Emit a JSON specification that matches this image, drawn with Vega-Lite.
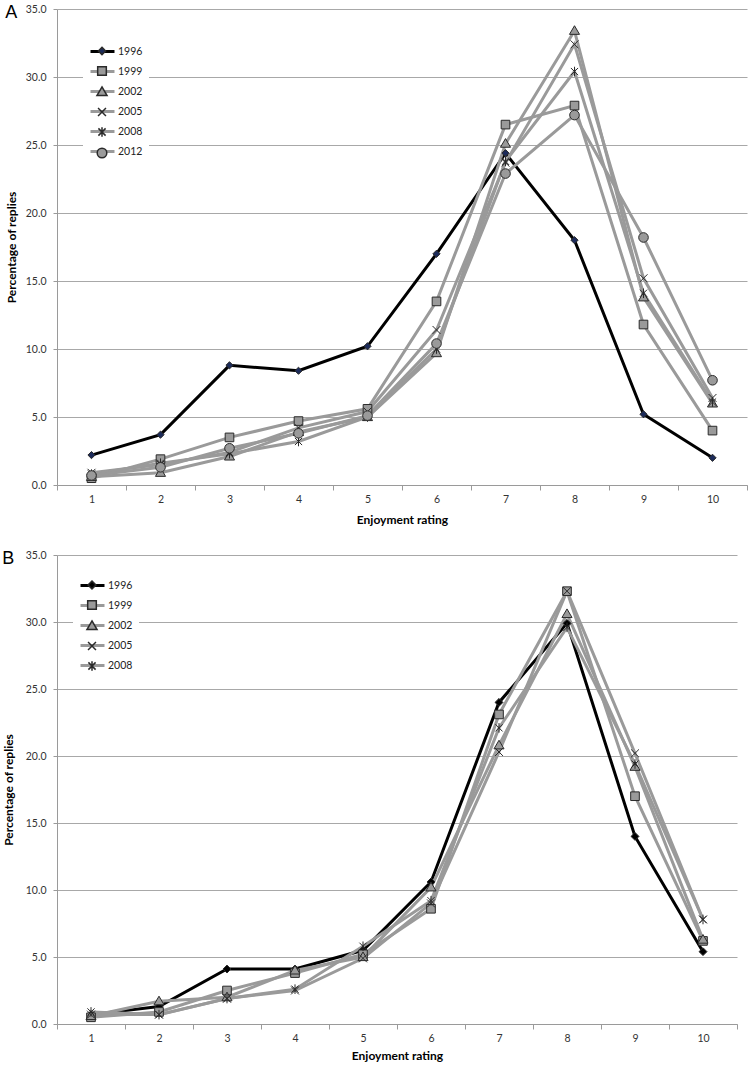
{
  "$schema": "https://vega.github.io/schema/vega-lite/v6.json",
  "padding": {"left": 2, "top": 4, "right": 0, "bottom": 0},
  "spacing": 24,
  "config": {
    "view": {"stroke": null},
    "font": "Lato",
    "axis": {
      "labelFont": "Lato", "labelFontSize": 10.5, "labelColor": "#333333",
      "titleFont": "Lato", "titleFontSize": 12, "titleFontWeight": "bold", "titleColor": "#000000",
      "domainColor": "#9a9a9a", "tickColor": "#9a9a9a", "gridColor": "#a8a8a8", "gridWidth": 1
    },
    "legend": {
      "labelFont": "Lato", "labelFontSize": 10.5, "labelColor": "#222222",
      "symbolSize": 576, "rowPadding": -3.4, "padding": 6, "labelOffset": 2, "orient": "none"
    },
    "title": {"font": "Liberation Sans", "fontSize": 18, "fontWeight": "normal", "anchor": "start", "frame": "bounds", "baseline": "middle", "offset": -18, "color": "#000000"}
  },
  "datasets": {
    "a": [
      {"year": "1996", "rating": 1, "pct": 2.2}, {"year": "1996", "rating": 2, "pct": 3.7}, {"year": "1996", "rating": 3, "pct": 8.8}, {"year": "1996", "rating": 4, "pct": 8.4}, {"year": "1996", "rating": 5, "pct": 10.2},
      {"year": "1996", "rating": 6, "pct": 17.0}, {"year": "1996", "rating": 7, "pct": 24.4}, {"year": "1996", "rating": 8, "pct": 18.0}, {"year": "1996", "rating": 9, "pct": 5.2}, {"year": "1996", "rating": 10, "pct": 2.0},
      {"year": "1999", "rating": 1, "pct": 0.5}, {"year": "1999", "rating": 2, "pct": 1.9}, {"year": "1999", "rating": 3, "pct": 3.5}, {"year": "1999", "rating": 4, "pct": 4.7}, {"year": "1999", "rating": 5, "pct": 5.6},
      {"year": "1999", "rating": 6, "pct": 13.5}, {"year": "1999", "rating": 7, "pct": 26.5}, {"year": "1999", "rating": 8, "pct": 27.9}, {"year": "1999", "rating": 9, "pct": 11.8}, {"year": "1999", "rating": 10, "pct": 4.0},
      {"year": "2002", "rating": 1, "pct": 0.6}, {"year": "2002", "rating": 2, "pct": 0.9}, {"year": "2002", "rating": 3, "pct": 2.1}, {"year": "2002", "rating": 4, "pct": 3.9}, {"year": "2002", "rating": 5, "pct": 5.0},
      {"year": "2002", "rating": 6, "pct": 9.7}, {"year": "2002", "rating": 7, "pct": 25.1}, {"year": "2002", "rating": 8, "pct": 33.4}, {"year": "2002", "rating": 9, "pct": 13.8}, {"year": "2002", "rating": 10, "pct": 6.0},
      {"year": "2005", "rating": 1, "pct": 0.9}, {"year": "2005", "rating": 2, "pct": 1.5}, {"year": "2005", "rating": 3, "pct": 2.4}, {"year": "2005", "rating": 4, "pct": 4.2}, {"year": "2005", "rating": 5, "pct": 5.4},
      {"year": "2005", "rating": 6, "pct": 11.4}, {"year": "2005", "rating": 7, "pct": 23.7}, {"year": "2005", "rating": 8, "pct": 32.4}, {"year": "2005", "rating": 9, "pct": 15.2}, {"year": "2005", "rating": 10, "pct": 6.4},
      {"year": "2008", "rating": 1, "pct": 0.8}, {"year": "2008", "rating": 2, "pct": 1.6}, {"year": "2008", "rating": 3, "pct": 2.3}, {"year": "2008", "rating": 4, "pct": 3.2}, {"year": "2008", "rating": 5, "pct": 5.0},
      {"year": "2008", "rating": 6, "pct": 10.0}, {"year": "2008", "rating": 7, "pct": 23.8}, {"year": "2008", "rating": 8, "pct": 30.4}, {"year": "2008", "rating": 9, "pct": 14.1}, {"year": "2008", "rating": 10, "pct": 6.1},
      {"year": "2012", "rating": 1, "pct": 0.7}, {"year": "2012", "rating": 2, "pct": 1.3}, {"year": "2012", "rating": 3, "pct": 2.7}, {"year": "2012", "rating": 4, "pct": 3.8}, {"year": "2012", "rating": 5, "pct": 5.1},
      {"year": "2012", "rating": 6, "pct": 10.4}, {"year": "2012", "rating": 7, "pct": 22.9}, {"year": "2012", "rating": 8, "pct": 27.2}, {"year": "2012", "rating": 9, "pct": 18.2}, {"year": "2012", "rating": 10, "pct": 7.7}
    ],
    "b": [
      {"year": "1996", "rating": 1, "pct": 0.7}, {"year": "1996", "rating": 2, "pct": 1.3}, {"year": "1996", "rating": 3, "pct": 4.1}, {"year": "1996", "rating": 4, "pct": 4.1}, {"year": "1996", "rating": 5, "pct": 5.5},
      {"year": "1996", "rating": 6, "pct": 10.6}, {"year": "1996", "rating": 7, "pct": 24.0}, {"year": "1996", "rating": 8, "pct": 29.9}, {"year": "1996", "rating": 9, "pct": 14.0}, {"year": "1996", "rating": 10, "pct": 5.4},
      {"year": "1999", "rating": 1, "pct": 0.5}, {"year": "1999", "rating": 2, "pct": 0.9}, {"year": "1999", "rating": 3, "pct": 2.5}, {"year": "1999", "rating": 4, "pct": 3.8}, {"year": "1999", "rating": 5, "pct": 5.2},
      {"year": "1999", "rating": 6, "pct": 8.6}, {"year": "1999", "rating": 7, "pct": 23.1}, {"year": "1999", "rating": 8, "pct": 32.3}, {"year": "1999", "rating": 9, "pct": 17.0}, {"year": "1999", "rating": 10, "pct": 6.2},
      {"year": "2002", "rating": 1, "pct": 0.6}, {"year": "2002", "rating": 2, "pct": 1.7}, {"year": "2002", "rating": 3, "pct": 2.0}, {"year": "2002", "rating": 4, "pct": 4.0}, {"year": "2002", "rating": 5, "pct": 5.0},
      {"year": "2002", "rating": 6, "pct": 10.2}, {"year": "2002", "rating": 7, "pct": 20.8}, {"year": "2002", "rating": 8, "pct": 30.6}, {"year": "2002", "rating": 9, "pct": 19.2}, {"year": "2002", "rating": 10, "pct": 6.3},
      {"year": "2005", "rating": 1, "pct": 0.7}, {"year": "2005", "rating": 2, "pct": 0.7}, {"year": "2005", "rating": 3, "pct": 1.9}, {"year": "2005", "rating": 4, "pct": 2.5}, {"year": "2005", "rating": 5, "pct": 4.9},
      {"year": "2005", "rating": 6, "pct": 9.0}, {"year": "2005", "rating": 7, "pct": 20.3}, {"year": "2005", "rating": 8, "pct": 32.3}, {"year": "2005", "rating": 9, "pct": 20.2}, {"year": "2005", "rating": 10, "pct": 7.8},
      {"year": "2008", "rating": 1, "pct": 0.9}, {"year": "2008", "rating": 2, "pct": 0.7}, {"year": "2008", "rating": 3, "pct": 1.9}, {"year": "2008", "rating": 4, "pct": 2.6}, {"year": "2008", "rating": 5, "pct": 5.8},
      {"year": "2008", "rating": 6, "pct": 9.2}, {"year": "2008", "rating": 7, "pct": 22.1}, {"year": "2008", "rating": 8, "pct": 29.6}, {"year": "2008", "rating": 9, "pct": 19.4}, {"year": "2008", "rating": 10, "pct": 7.8}
    ]
  },
  "vconcat": [
    {
      "title": {"text": "A"},
      "width": 690,
      "height": 476,
      "data": {"name": "a"},
      "encoding": {
        "x": {"field": "rating", "type": "ordinal", "title": "Enjoyment rating",
          "scale": {"paddingInner": 0, "paddingOuter": 0},
          "axis": {"labelAngle": 0, "tickBand": "extent", "tickSize": 5, "labelPadding": 4, "titlePadding": 10, "grid": false}},
        "y": {"field": "pct", "type": "quantitative", "title": "Percentage of replies",
          "scale": {"domain": [0, 35], "nice": false},
          "axis": {"values": [0, 5, 10, 15, 20, 25, 30, 35], "format": ".1f", "tickSize": 4, "labelPadding": 7, "titlePadding": 7, "grid": true}}
      },
      "layer": [
        {
          "mark": {"type": "line", "strokeWidth": 3},
          "encoding": {
            "stroke": {"field": "year", "type": "nominal",
              "scale": {"range": ["#000000", "#9a9a9a", "#9a9a9a", "#9a9a9a", "#9a9a9a", "#9a9a9a"]},
              "legend": {"title": null, "symbolType": "stroke", "legendX": 26, "legendY": 23, "fillColor": "white", "zindex": 1, "symbolStrokeWidth": 3,
                "encode": {"symbols": {"update": {"strokeWidth": {"value": 3}}}}}},
            "strokeWidth": {"condition": {"test": "datum.year === '1996'", "value": 2.5}, "value": 3}
          }
        },
        {
          "mark": {"type": "point", "filled": true, "size": 576, "stroke": "#2a2a2a", "strokeWidth": 1, "opacity": 1},
          "encoding": {
            "shape": {"field": "year", "type": "nominal",
              "scale": {"domain": ["1996", "1999", "2002", "2005", "2008", "2012"],
                "range": [
                  "M0,-0.3L0.3,0L0,0.3L-0.3,0Z",
                  "M-0.36,-0.36L0.36,-0.36L0.36,0.36L-0.36,0.36Z",
                  "M0,-0.42L0.42,0.3L-0.42,0.3Z",
                  "M-0.33,-0.33L0.33,0.33M-0.33,0.33L0.33,-0.33",
                  "M-0.3,-0.3L0.3,0.3M-0.3,0.3L0.3,-0.3M0,-0.4L0,0.4",
                  "M-0.4,0A0.4,0.4,0,1,0,0.4,0A0.4,0.4,0,1,0,-0.4,0Z"
                ]},
              "legend": {"title": null, "legendX": 26, "legendY": 23, "zindex": 2, "labelOpacity": 0,
                "encode": {"symbols": {"update": {"stroke": {"value": "#2a2a2a"}, "strokeWidth": {"value": 1}, "opacity": {"value": 1}}}}}},
            "fill": {"field": "year", "type": "nominal",
              "scale": {"domain": ["1996", "1999", "2002", "2005", "2008", "2012"],
                "range": ["#1c2b5a", "#9a9a9a", "#9a9a9a", "transparent", "transparent", "#9a9a9a"]},
              "legend": {"title": null, "legendX": 26, "legendY": 23, "zindex": 2, "labelOpacity": 0,
                "encode": {"symbols": {"update": {"stroke": {"value": "#2a2a2a"}, "strokeWidth": {"value": 1}, "opacity": {"value": 1}}}}}}
          }
        }
      ]
    },
    {
      "title": {"text": "B"},
      "width": 680,
      "height": 469,
      "data": {"name": "b"},
      "encoding": {
        "x": {"field": "rating", "type": "ordinal", "title": "Enjoyment rating",
          "scale": {"paddingInner": 0, "paddingOuter": 0},
          "axis": {"labelAngle": 0, "tickBand": "extent", "tickSize": 5, "labelPadding": 4, "titlePadding": 7, "grid": false}},
        "y": {"field": "pct", "type": "quantitative", "title": "Percentage of replies",
          "scale": {"domain": [0, 35], "nice": false},
          "axis": {"values": [0, 5, 10, 15, 20, 25, 30, 35], "format": ".1f", "tickSize": 4, "labelPadding": 7, "titlePadding": 10, "grid": true}}
      },
      "layer": [
        {
          "mark": {"type": "line", "strokeWidth": 3},
          "encoding": {
            "stroke": {"field": "year", "type": "nominal",
              "scale": {"range": ["#000000", "#9a9a9a", "#9a9a9a", "#9a9a9a", "#9a9a9a"]},
              "legend": {"title": null, "symbolType": "stroke", "legendX": 16, "legendY": 11, "fillColor": "white", "zindex": 1, "symbolStrokeWidth": 3, "rowPadding": -3.6,
                "encode": {"symbols": {"update": {"strokeWidth": {"value": 3}}}}}},
            "strokeWidth": {"condition": {"test": "datum.year === '1996'", "value": 2.5}, "value": 3}
          }
        },
        {
          "mark": {"type": "point", "filled": true, "size": 576, "stroke": "#2a2a2a", "strokeWidth": 1, "opacity": 1},
          "encoding": {
            "shape": {"field": "year", "type": "nominal",
              "scale": {"domain": ["1996", "1999", "2002", "2005", "2008"],
                "range": [
                  "M0,-0.33L0.33,0L0,0.33L-0.33,0Z",
                  "M-0.36,-0.36L0.36,-0.36L0.36,0.36L-0.36,0.36Z",
                  "M0,-0.42L0.42,0.3L-0.42,0.3Z",
                  "M-0.33,-0.33L0.33,0.33M-0.33,0.33L0.33,-0.33",
                  "M-0.3,-0.3L0.3,0.3M-0.3,0.3L0.3,-0.3M0,-0.4L0,0.4"
                ]},
              "legend": {"title": null, "legendX": 16, "legendY": 11, "zindex": 2, "labelOpacity": 0, "rowPadding": -3.6,
                "encode": {"symbols": {"update": {"stroke": {"value": "#2a2a2a"}, "strokeWidth": {"value": 1}, "opacity": {"value": 1}}}}}},
            "fill": {"field": "year", "type": "nominal",
              "scale": {"domain": ["1996", "1999", "2002", "2005", "2008"],
                "range": ["#000000", "#9a9a9a", "#9a9a9a", "transparent", "transparent"]},
              "legend": {"title": null, "legendX": 16, "legendY": 11, "zindex": 2, "labelOpacity": 0, "rowPadding": -3.6,
                "encode": {"symbols": {"update": {"stroke": {"value": "#2a2a2a"}, "strokeWidth": {"value": 1}, "opacity": {"value": 1}}}}}}
          }
        }
      ]
    }
  ],
  "resolve": {"scale": {"stroke": "independent", "shape": "independent", "fill": "independent"}}
}
